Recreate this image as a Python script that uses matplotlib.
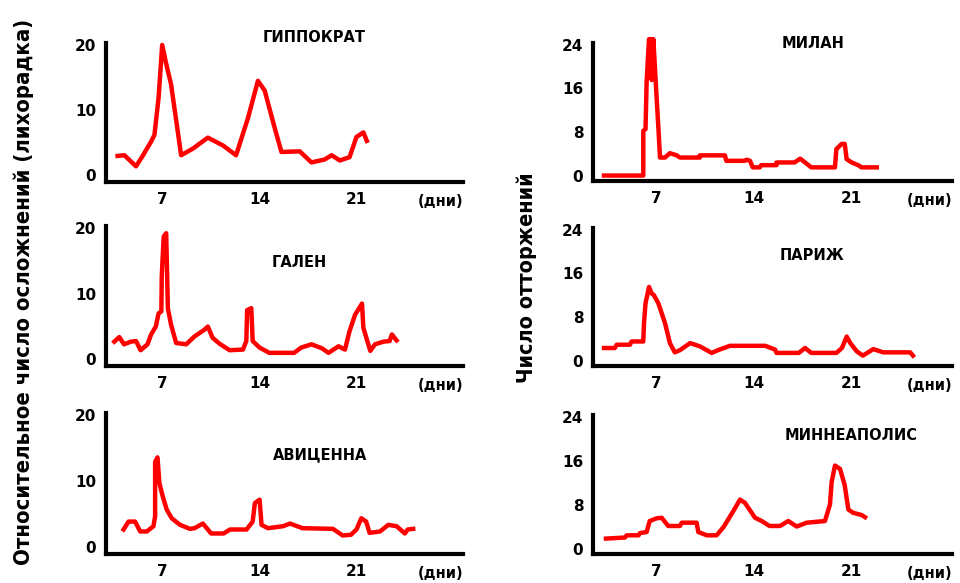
import numpy as np
import matplotlib
matplotlib.use('Agg')
import matplotlib.pyplot as plt

# Данные (дни, значение)
# Гиппократ
hip_x = [3.74, 4.23, 5.07, 5.55, 6.16, 6.4, 6.7, 6.96, 7.25, 7.6, 8.33, 9.17, 10.26, 11.35,
         12.3, 13.16, 13.88, 14.37, 15.1, 15.58, 16.9, 17.75, 18.7, 19.2, 19.8, 20.5, 21.0,
         21.5, 21.75]
hip_y = [3.0, 3.1, 1.4, 3.0, 5.2, 6.2, 11.9, 20.0, 17.1, 14.0, 3.1, 4.1, 5.8, 4.6,
         3.1, 8.8, 14.5, 13.0, 7.2, 3.6, 3.7, 2.0, 2.45, 3.1, 2.3, 2.8, 5.9,
         6.6, 5.3]

# Гален
gal_x = [3.5, 3.86, 4.2, 4.7, 5.07, 5.4, 5.9, 6.16, 6.5, 6.7, 6.9, 6.93, 7.07, 7.25, 7.37,
         7.6, 7.97, 8.7, 9.3, 10.0, 10.26, 10.6, 11.1, 11.83, 12.8, 13.04, 13.1, 13.4, 13.5,
         14.0, 14.7, 16.5, 17.0, 17.75, 18.5, 18.98, 19.7, 20.17, 20.5, 20.9, 21.4, 21.5,
         22.0, 22.34, 22.95, 23.4, 23.56, 23.9]
gal_y = [2.7, 3.4, 2.3, 2.7, 2.8, 1.4, 2.3, 3.8, 5.0, 7.0, 7.3, 12.7, 18.7, 19.2, 7.8,
         5.3, 2.5, 2.3, 3.5, 4.5, 5.0, 3.3, 2.4, 1.4, 1.5, 2.8, 7.5, 7.8, 2.8,
         1.8, 1.0, 1.0, 1.8, 2.3, 1.7, 1.0, 2.0, 1.5, 4.3, 6.8, 8.5, 4.8,
         1.3, 2.3, 2.7, 2.8, 3.8, 2.9]

# Авиценна
avi_x = [4.17, 4.53, 5.0, 5.37, 5.85, 6.33, 6.45, 6.45, 6.62, 6.76, 7.0, 7.29, 7.65, 8.25,
         8.97, 9.3, 9.9, 10.5, 11.4, 11.86, 13.06, 13.5, 13.66, 14.0, 14.14, 14.6, 15.7,
         16.2, 17.1, 19.3, 20.0, 20.6, 21.0, 21.35, 21.7, 21.95, 22.7, 23.3, 23.9, 24.5,
         24.7, 25.1]
avi_y = [2.7, 3.9, 3.9, 2.4, 2.4, 3.2, 4.7, 12.9, 13.6, 9.7, 7.7, 5.7, 4.4, 3.4,
         2.8, 2.9, 3.6, 2.1, 2.1, 2.7, 2.7, 3.9, 6.7, 7.2, 3.4, 2.9, 3.2,
         3.6, 2.9, 2.8, 1.8, 1.9, 2.7, 4.4, 3.9, 2.2, 2.4, 3.4, 3.2, 2.1,
         2.7, 2.8]

# Милан
mil_x = [3.22, 6.04, 6.04, 6.2, 6.28, 6.45, 6.64, 6.64, 6.76, 6.88, 7.0, 7.12, 7.24, 7.6,
         7.95, 8.44, 8.67, 10.1, 10.1, 11.9, 12.0, 13.34, 13.46, 13.7, 13.9, 14.4, 14.5,
         15.6, 15.6, 16.9, 17.3, 17.65, 18.1, 19.8, 19.9, 20.28, 20.5, 20.64, 21.0, 21.47,
         21.7, 22.8]
mil_y = [0.0, 0.0, 8.2, 8.5, 17.2, 25.0, 25.0, 17.5, 25.0, 19.6, 14.1, 8.9, 3.3, 3.3,
         4.1, 3.7, 3.3, 3.3, 3.7, 3.7, 2.7, 2.7, 2.9, 2.7, 1.5, 1.5, 1.9,
         1.9, 2.4, 2.4, 3.1, 2.4, 1.5, 1.5, 4.85, 5.8, 5.8, 3.0, 2.4, 1.9,
         1.5, 1.5]

# Париж
par_x = [3.22, 4.0, 4.13, 5.08, 5.2, 6.04, 6.09, 6.2, 6.45, 6.64, 6.8, 7.12, 7.6, 7.95,
         8.3, 8.67, 9.4, 10.1, 10.95, 11.5, 12.26, 14.8, 15.5, 15.6, 17.2, 17.65, 18.1,
         19.9, 20.3, 20.64, 20.9, 21.36, 21.8, 22.55, 23.27, 25.2, 25.4]
par_y = [2.3, 2.3, 2.9, 2.9, 3.5, 3.5, 6.85, 10.5, 13.5, 12.3, 12.0, 10.5, 6.85, 3.2,
         1.5, 1.9, 3.2, 2.6, 1.4, 2.0, 2.7, 2.7, 2.0, 1.4, 1.4, 2.3, 1.4,
         1.4, 2.3, 4.4, 3.2, 1.7, 0.9, 2.1, 1.5, 1.5, 0.9]

# Миннеаполис
min_x = [3.36, 4.72, 4.85, 5.7, 5.8, 6.28, 6.5, 7.0, 7.36, 7.83, 8.67, 8.8, 9.87, 9.99,
         10.6, 11.3, 11.8, 12.5, 12.98, 13.34, 14.06, 14.54, 15.1, 15.85, 16.45, 17.05,
         17.77, 19.08, 19.44, 19.56, 19.8, 20.16, 20.5, 20.76, 21.1, 21.7, 21.96]
min_y = [1.8, 2.0, 2.4, 2.4, 2.8, 3.0, 5.0, 5.5, 5.6, 4.1, 4.1, 4.7, 4.7, 3.0,
         2.4, 2.4, 3.9, 6.8, 8.9, 8.3, 5.6, 5.0, 4.1, 4.1, 5.0, 4.0,
         4.7, 5.0, 8.0, 12.1, 15.1, 14.5, 11.5, 7.1, 6.5, 6.1, 5.7]

names = ['ГИППОКРАТ', 'ГАЛЕН', 'АВИЦЕННА', 'МИЛАН', 'ПАРИЖ', 'МИННЕАПОЛИС']
series = [(hip_x, hip_y), (gal_x, gal_y), (avi_x, avi_y),
          (mil_x, mil_y), (par_x, par_y), (min_x, min_y)]
left_ticks = [0, 10, 20]
right_ticks = [0, 8, 16, 24]
day_ticks = [7, 14, 21]

W, H = 960, 583
fig = plt.figure(figsize=(W / 100, H / 100), dpi=100)

def px_box(x0, x1, ytop, ybot):
    return [x0 / W, 1 - ybot / H, (x1 - x0) / W, (ybot - ytop) / H]

# положение осей в пикселях
boxes = [px_box(106, 463, 43, 182), px_box(106, 463, 226, 366), px_box(106, 463, 413, 554),
         px_box(593, 952, 43, 181), px_box(593, 952, 228, 366), px_box(593, 952, 415, 554)]
title_pos = [(314, 37), (299, 262), (320, 455), (813, 43), (812, 255), (851, 435)]

for i in range(6):
    ax = fig.add_axes(boxes[i])
    x, y = series[i]
    ax.plot(x, y, color='#ff0000', lw=3.2, solid_joinstyle='round', clip_on=False)
    if i < 3:
        ax.set_xlim(2.9, 28.7)
        ax.set_ylim(-1, 20.3)
        ax.set_yticks(left_ticks)
    else:
        ax.set_xlim(2.43, 28.2)
        ax.set_ylim(-1, 24.3)
        ax.set_yticks(right_ticks)
    ax.set_xticks(day_ticks)
    for s in ['top', 'right']:
        ax.spines[s].set_visible(False)
    for s in ['left', 'bottom']:
        ax.spines[s].set_linewidth(3)
    ax.tick_params(length=0, pad=7, labelsize=11)
    for lab in ax.get_xticklabels() + ax.get_yticklabels():
        lab.set_fontweight('bold')
    ax.patch.set_alpha(0)
    ax.annotate('(дни)', xy=(1, 0), xycoords='axes fraction', xytext=(0, -14),
                textcoords='offset points', ha='right', va='center',
                fontsize=10.5, fontweight='bold')
    tx, ty = title_pos[i]
    fig.text(tx / W, 1 - ty / H, names[i], ha='center', va='center',
             fontsize=10.5, fontweight='bold')

fig.text(24 / W, 1 - 292 / H, 'Относительное число осложнений (лихорадка)',
         rotation=90, ha='center', va='center', fontsize=15.8, fontweight='bold',
         fontstretch='condensed')
fig.text(527 / W, 1 - 278 / H, 'Число отторжений',
         rotation=90, ha='center', va='center', fontsize=15.5, fontweight='bold',
         fontstretch='condensed')

fig.savefig('out.png', dpi=100)
